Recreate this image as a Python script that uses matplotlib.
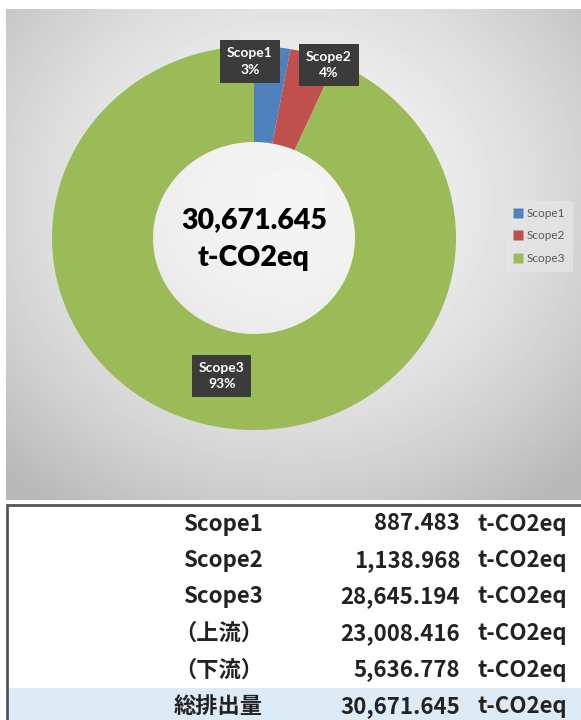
import numpy as np
import matplotlib
matplotlib.use("Agg")
import matplotlib.pyplot as plt
from matplotlib.lines import Line2D
from matplotlib.patches import Rectangle

# data
scopes = ["Scope1", "Scope2", "Scope3"]
scope_vals = [887.483, 1138.968, 28645.194]
colors = ["#4f81bd", "#c0504d", "#9bbb59"]
row_labels = ["Scope1", "Scope2", "Scope3", "（上流）", "（下流）", "総排出量"]
row_vals = [887.483, 1138.968, 28645.194, 23008.416, 5636.778, 30671.645]
unit = "t-CO2eq"

W, H = 581, 720
JP = ["Noto Sans CJK JP", "DejaVu Sans"]
LAT = ["Lato", "DejaVu Sans"]

fig = plt.figure(figsize=(W / 100, H / 100), dpi=100)
fig.patch.set_facecolor("white")

# background axes in pixel coordinates
bg = fig.add_axes([0, 0, 1, 1])
bg.set_xlim(0, W); bg.set_ylim(H, 0); bg.axis("off")

# chart panel with soft radial gradient
px0, px1, py0, py1 = 6, 581, 9, 500
yy, xx = np.mgrid[py0:py1, px0:px1]
r = np.hypot(xx - 290, (yy - 200) * 1.1) / 340.0
shade = 0.96 - 0.17 * np.clip(r, 0, 1.2) ** 1.8
bg.imshow(shade, cmap="gray", vmin=0, vmax=1, extent=(px0, px1, py1, py0),
          aspect="auto", interpolation="bilinear", zorder=0)

# table below the chart
bg.plot([7, 7, W], [H, 505, 505], color="#555555", lw=2.0, zorder=2,
         solid_joinstyle="miter")
row_y0, row_h = 524, 36.5
bg.add_patch(Rectangle((8, 688), W - 8, H - 688, fc="#ddebf7", ec="none", zorder=1))
for i, (lab, v) in enumerate(zip(row_labels, row_vals)):
    y = row_y0 + i * row_h
    kw = dict(va="center", fontsize=16, fontweight="bold", color="#222222",
              family=JP, zorder=3)
    bg.text(263, y, lab, ha="right", **kw)
    bg.text(460, y, f"{v:,.3f}", ha="right", **kw)
    bg.text(477, y, unit, ha="left", **kw)

# donut (slightly squashed like the original image)
cx, cy, rx, ry = 254, 238, 202, 192
ax = fig.add_axes([(cx - rx) / W, 1 - (cy + ry) / H, 2 * rx / W, 2 * ry / H])
ax.patch.set_alpha(0)
wedges, _ = ax.pie(scope_vals, colors=colors, startangle=90, counterclock=False,
                   radius=1.0, wedgeprops=dict(width=0.5, edgecolor="none"))
ax.set_aspect("auto")
ax.set_xlim(-1, 1); ax.set_ylim(-1, 1)
ax.axis("off")

total = sum(scope_vals)
ax.text(0, 0.095, f"{total:,.3f}", ha="center", va="center", fontsize=20.5,
        fontweight="heavy", family=LAT, color="black")
ax.text(0, -0.105, unit, ha="center", va="center", fontsize=20.5,
        fontweight="heavy", family=LAT, color="black")

# data labels (dark boxes)
label_pos = [(-0.02, 0.92), (0.37, 0.90), (-0.16, -0.72)]
for name, v, (lx, ly) in zip(scopes, scope_vals, label_pos):
    pct = round(100 * v / total)
    ax.text(lx, ly, f"{name}\n{pct}%", ha="center", va="center", fontsize=10,
            fontweight="bold", family=LAT, color="white", linespacing=1.45,
            bbox=dict(boxstyle="square,pad=0.5", fc="#3b3b3b", ec="none"))

handles = [Line2D([], [], marker="s", ls="none", markersize=6.5,
                  markerfacecolor=c, markeredgecolor="none") for c in colors]
leg = fig.legend(handles, scopes, loc="center", bbox_to_anchor=(539 / W, 1 - 236 / H),
                 frameon=True, handlelength=0.8, handletextpad=0.3,
                 labelspacing=1.0, borderpad=0.6, prop=dict(family=LAT, size=8.5))
leg.get_frame().set_facecolor("#e6e6e6")
leg.get_frame().set_edgecolor("#e6e6e6")
leg.get_frame().set_alpha(0.7)
for t in leg.get_texts():
    t.set_color("#595959")

fig.savefig("out.png", dpi=100)
